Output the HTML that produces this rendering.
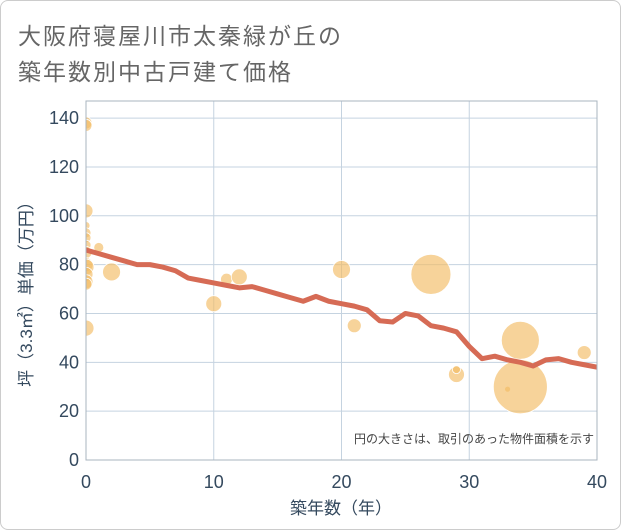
<!DOCTYPE html>
<html><head><meta charset="utf-8"><style>
body{margin:0;background:#fff;}
#wrap{position:relative;width:621px;height:530px;overflow:hidden;}
#frame{position:absolute;left:0;top:0;width:619px;height:528px;border:1px solid #ccc;border-radius:8px;}
.t{position:absolute;left:18px;font:23px "Liberation Sans","Noto Sans CJK JP",sans-serif;color:#666;letter-spacing:2px;white-space:nowrap;}
svg text{font-family:"Liberation Sans","Noto Sans CJK JP",sans-serif;}
</style></head><body>
<div id="wrap">
<div id="frame"></div>
<div class="t" style="top:17px">大阪府寝屋川市太秦緑が丘の</div>
<div class="t" style="top:53px">築年数別中古戸建て価格</div>
<svg id="chart" width="621" height="530" style="position:absolute;left:0;top:0">
<defs><clipPath id="pc"><rect x="86" y="101" width="511" height="359"/></clipPath></defs>
<g id="plotg" clip-path="url(#pc)"></g>
</svg>
</div>
<script>
const xTicks=[0,10,20,30,40];
const yTicks=[0,20,40,60,80,100,120,140];
const lineX=[0,1,2,3,4,5,6,7,8,9,10,11,12,13,14,15,16,17,18,19,20,21,22,23,24,25,26,27,28,29,30,31,32,33,34,35,36,37,38,39,40];
const lineY=[86,84.5,83,81.5,80,80,79,77.5,74.5,73.5,72.5,71.5,70.5,71,69.5,68,66.5,65,67,65,64,63,61.5,57,56.5,60,59,55,54,52.5,46.5,41.5,42.5,41,40,38.5,41,41.5,40,39,38];
const bubX=[0,0,0,0,0,0,0,0,0,0,0,0,0,0,1,2,10,11,12,20,21,27,29,29,33,34,34,39];
const bubY=[138,137,102,96,93,91,88,85,80,79,76,73,72,54,87,77,64,74,75,78,55,76,35,37,29,49,30,44];
const bubR=[6,6,7,4,5,5,5,6,7,8,7,7,6,8,5,9,8,6,8,9,7,20,8,4,3,19,27,7];
const ns="http://www.w3.org/2000/svg";
const svg=document.getElementById('chart');
const pg=document.getElementById('plotg');
const L=86,R=597,T=101,B=460,YMAX=147;
const sx=v=>L+(v/40)*(R-L);
const sy=v=>B-(v/YMAX)*(B-T);
function mk(tag,attrs,parent){const e=document.createElementNS(ns,tag);for(const k in attrs)e.setAttribute(k,attrs[k]);(parent||svg).appendChild(e);return e;}
xTicks.forEach(v=>{const g=mk('line',{x1:sx(v),x2:sx(v),y1:T,y2:B,stroke:'#c5d3e0','stroke-width':1},pg);


const t=mk('text',{x:sx(v),y:488,'text-anchor':'middle','font-size':18,fill:'#34495e'});t.textContent=v;

});
yTicks.forEach(v=>{const g=mk('line',{x1:L,x2:R,y1:sy(v),y2:sy(v),stroke:'#c5d3e0','stroke-width':1},pg);


const t=mk('text',{x:79,y:sy(v)+6,'text-anchor':'end','font-size':18,fill:'#34495e'});t.textContent=v;

});
bubX.forEach((x,i)=>{const c=mk('circle',{cx:sx(x),cy:sy(bubY[i]),r:bubR[i],fill:'rgba(242,187,100,0.65)',stroke:'#fff','stroke-width':0.8},pg);

});
const pl=mk('polyline',{points:lineX.map((x,i)=>sx(x)+','+sy(lineY[i])).join(' '),fill:'none',stroke:'#d66b55','stroke-width':5,'stroke-linejoin':'round'},pg);


const box=mk('rect',{x:L,y:T,width:R-L,height:B-T,fill:'none',stroke:'#aab4bf','stroke-width':1});


const n=mk('text',{x:594,y:443,'text-anchor':'end','font-size':12,fill:'#444'});n.textContent='円の大きさは、取引のあった物件面積を示す';


const xt=mk('text',{x:341,y:514,'text-anchor':'middle','font-size':17,fill:'#34495e'});xt.textContent='築年数（年）';


const yt=mk('text',{x:0,y:0,'text-anchor':'middle','font-size':17,fill:'#34495e',transform:'translate(32,290) rotate(-90)'});yt.textContent='坪（3.3㎡）単価（万円）';


</script>
</body></html>
